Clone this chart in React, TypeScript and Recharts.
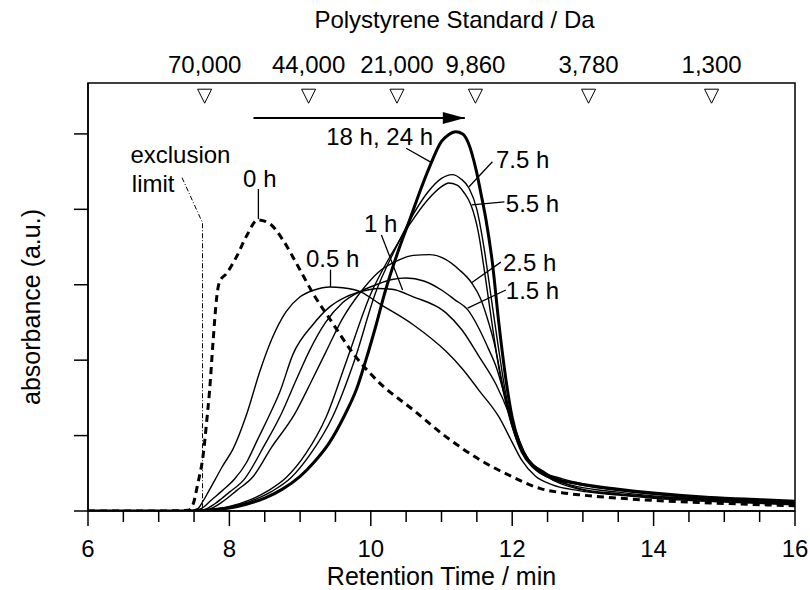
import {
  ComposedChart, Line, XAxis, YAxis, ReferenceArea, ReferenceDot, ReferenceLine, Label
} from 'recharts'

const FONT = '"Liberation Sans", Arial, Helvetica, sans-serif'

// GPC traces: [retention time (min), absorbance (a.u.)]
const h0 = [[6,0],[7.0,0],[7.42,0.01],[7.49,0.1],[7.55,0.35],[7.63,0.75],[7.68,1.2],[7.72,1.6],[7.77,2.26],[7.82,2.83],[7.86,3.04],[7.96,3.15],[8.1,3.37],[8.25,3.66],[8.4,3.86],[8.57,3.81],[8.76,3.59],[8.95,3.28],[9.18,2.89],[9.46,2.49],[9.75,2.09],[10.1,1.72],[10.6,1.34],[11.07,0.98],[11.54,0.68],[12.01,0.45],[12.39,0.3],[12.72,0.24],[13.0,0.21],[13.5,0.17],[14,0.14],[15,0.1],[16,0.07]]
const h05 = [[6,0],[7.4,0],[7.55,0.03],[7.62,0.12],[7.7,0.25],[7.8,0.42],[7.9,0.59],[8.05,0.82],[8.25,1.3],[8.43,1.85],[8.6,2.28],[8.8,2.64],[9.0,2.84],[9.2,2.93],[9.42,2.97],[9.6,2.96],[9.87,2.9],[10.12,2.75],[10.6,2.47],[11.06,2.12],[11.3,1.88],[11.53,1.6],[11.81,1.25],[12.0,0.91],[12.13,0.68],[12.33,0.46],[12.56,0.35],[12.94,0.27],[13.5,0.21],[14,0.17],[15,0.12],[16,0.08]]
const h1 = [[6,0],[7.45,0],[7.6,0.03],[7.75,0.15],[7.9,0.27],[8.07,0.42],[8.24,0.64],[8.4,0.95],[8.57,1.28],[8.71,1.57],[8.9,2.08],[9.18,2.47],[9.41,2.7],[9.65,2.84],[9.87,2.91],[10.1,2.95],[10.3,2.94],[10.6,2.84],[11.06,2.63],[11.29,2.4],[11.53,2.05],[11.77,1.68],[11.95,1.3],[12.09,0.93],[12.23,0.66],[12.47,0.47],[12.94,0.29],[13.5,0.22],[14,0.18],[15,0.13],[16,0.09]]
const h15 = [[6,0],[7.5,0],[7.65,0.02],[7.8,0.1],[8.0,0.25],[8.21,0.42],[8.5,0.88],[8.73,1.28],[8.95,1.75],[9.13,2.12],[9.36,2.5],[9.6,2.76],[9.87,2.92],[10.1,3.01],[10.3,3.07],[10.5,3.09],[10.75,3.05],[11.0,2.93],[11.19,2.8],[11.37,2.67],[11.53,2.42],[11.65,2.18],[11.77,1.92],[11.91,1.48],[12.06,1.04],[12.2,0.73],[12.47,0.51],[12.94,0.3],[13.5,0.23],[14,0.19],[15,0.14],[16,0.1]]
const h25 = [[6,0],[7.5,0],[7.7,0.02],[7.9,0.12],[8.1,0.27],[8.33,0.45],[8.6,0.85],[8.92,1.28],[9.15,1.7],[9.36,2.1],[9.6,2.55],[9.87,2.92],[10.1,3.16],[10.4,3.33],[10.6,3.39],[10.83,3.4],[11.05,3.34],[11.25,3.2],[11.43,3.02],[11.55,2.82],[11.65,2.55],[11.74,2.25],[11.86,1.7],[12.0,1.12],[12.13,0.78],[12.3,0.57],[12.6,0.41],[12.94,0.32],[13.5,0.25],[14,0.2],[15,0.15],[16,0.1]]
const h55 = [[6,0],[7.55,0],[7.75,0.02],[8.0,0.06],[8.3,0.15],[8.55,0.27],[8.8,0.44],[9.08,0.76],[9.37,1.25],[9.66,2.0],[10.0,2.88],[10.3,3.42],[10.55,3.8],[10.8,4.12],[11.0,4.3],[11.1,4.35],[11.22,4.32],[11.32,4.22],[11.42,4.05],[11.52,3.7],[11.62,3.1],[11.72,2.45],[11.82,1.85],[11.93,1.35],[12.05,0.98],[12.2,0.7],[12.4,0.53],[12.7,0.41],[13.0,0.34],[13.5,0.27],[14,0.22],[15,0.15],[16,0.11]]
const h75 = [[6,0],[7.55,0],[7.75,0.02],[8.0,0.05],[8.3,0.13],[8.6,0.26],[8.87,0.44],[9.15,0.76],[9.46,1.25],[9.77,2.0],[10.07,2.9],[10.35,3.48],[10.55,3.85],[10.8,4.22],[11.0,4.41],[11.15,4.46],[11.28,4.4],[11.39,4.28],[11.5,4.0],[11.6,3.5],[11.7,2.85],[11.8,2.2],[11.9,1.6],[12.0,1.16],[12.1,0.86],[12.25,0.66],[12.45,0.51],[12.7,0.43],[13.0,0.36],[13.5,0.28],[14,0.23],[15,0.17],[16,0.12]]
const h18 = [[6,0],[7.6,0],[7.8,0.02],[8.0,0.04],[8.24,0.09],[8.5,0.17],[8.75,0.29],[9.0,0.46],[9.2,0.65],[9.41,0.9],[9.63,1.27],[9.8,1.62],[9.93,2.0],[10.07,2.45],[10.2,2.9],[10.4,3.48],[10.55,3.86],[10.7,4.25],[10.83,4.56],[11.0,4.9],[11.1,4.99],[11.2,5.03],[11.3,5.0],[11.38,4.88],[11.49,4.52],[11.56,4.2],[11.63,3.86],[11.72,3.29],[11.81,2.5],[11.91,1.75],[12.0,1.24],[12.1,0.9],[12.23,0.67],[12.37,0.54],[12.6,0.43],[12.94,0.36],[13.5,0.29],[14,0.24],[14.8,0.18],[15.5,0.15],[16,0.13]]

// exclusion limit marker (dash-dot)
const exclusion = [[7.33,4.42],[7.62,3.82],[7.62,0]]
// shift arrow
const arrow = [[8.34,5.21],[11.33,5.21]]

// polystyrene standards on the top axis
const psTimes = [7.65, 9.12, 10.37, 11.48, 13.08, 14.82]
const psLabels = ['70,000', '44,000', '21,000', '9,860', '3,780', '1,300']
const markerY = 5.5

const xTicks = [6,6.5,7,7.5,8,8.5,9,9.5,10,10.5,11,11.5,12,12.5,13,13.5,14,14.5,15,15.5,16]
const xLabelled = [6, 8, 10, 12, 14, 16]
const yTicks = [0, 1, 2, 3, 4, 5]

// annotation texts: [label, t, v, anchor]
const notes: [string, number, number, string][] = [
  ['exclusion', 6.6, 4.62, 'start'],
  ['limit', 6.62, 4.23, 'start'],
  ['0 h', 8.43, 4.3, 'middle'],
  ['0.5 h', 9.46, 3.24, 'middle'],
  ['1 h', 10.14, 3.7, 'middle'],
  ['18 h, 24 h', 9.37, 4.85, 'start'],
  ['7.5 h', 11.77, 4.55, 'start'],
  ['5.5 h', 11.91, 3.96, 'start'],
  ['2.5 h', 11.87, 3.18, 'start'],
  ['1.5 h', 11.91, 2.81, 'start'],
]
// leader lines: [t1, v1, t2, v2]
const leaders = [
  [8.41, 4.27, 8.41, 3.87],
  [9.43, 3.2, 9.43, 2.97],
  [10.15, 3.66, 10.45, 2.93],
  [10.5, 4.81, 10.86, 4.62],
  [11.72, 4.63, 11.39, 4.3],
  [11.89, 4.1, 11.43, 4.06],
  [11.84, 3.3, 11.43, 3.03],
  [11.91, 2.93, 11.37, 2.69],
]

const pts = (a: number[][]) => a.map(([t, v]) => ({ t, v }))

const thin = [h05, h1, h15, h25, h55, h75]

function BottomTick(props: any) {
  const { x, y, payload } = props
  const major = xLabelled.includes(payload.value)
  return (
    <g>
      <line x1={x} x2={x} y1={y} y2={y + (major ? 15 : 11)} stroke="#000" strokeWidth={1.5} />
      {major && (
        <text x={x} y={y + 46} textAnchor="middle" fontSize={24} fontFamily={FONT} fill="#000">
          {payload.value}
        </text>
      )}
    </g>
  )
}

function ArrowHead(props: any) {
  const { cx, cy, index } = props
  if (index !== arrow.length - 1) return <g key={'a' + index} />
  return <polygon key={'a' + index} points={`${cx},${cy} ${cx - 22},${cy - 6} ${cx - 22},${cy + 6}`} fill="#000" />
}

export default function App() {
  return (
    <div style={{ width: 810, height: 590, background: '#fff' }}>
      <style>{'body{margin:0}'}</style>
      <ComposedChart width={810} height={590} margin={{ top: 23, right: 15, bottom: 0, left: 0 }}>
        <XAxis
          dataKey="t" type="number" domain={[6, 16]} ticks={xTicks} interval={0}
          allowDataOverflow tickSize={0} tickMargin={0} tickLine={false}
          axisLine={{ stroke: '#000', strokeWidth: 1.5 }} height={79} tick={<BottomTick />}
        >
          <Label content={(p: any) => (
            <text x={p.viewBox.x + p.viewBox.width / 2} y={p.viewBox.y + 74} textAnchor="middle"
              fontSize={25} fontFamily={FONT} fill="#000">Retention Time / min</text>
          )} />
        </XAxis>
        <XAxis
          xAxisId="top" orientation="top" type="number" domain={[6, 16]}
          allowDataOverflow tick={false} tickLine={false} axisLine={false} height={60}
        >
          <Label content={(p: any) => (
            <text x={p.viewBox.x + p.viewBox.width / 2 + 13} y={p.viewBox.y + 5} textAnchor="middle"
              fontSize={24} fontFamily={FONT} fill="#000">Polystyrene Standard / Da</text>
          )} />
        </XAxis>
        <YAxis
          type="number" domain={[0, 5.675]} ticks={yTicks} interval={0} allowDataOverflow width={88}
          tickSize={14} tickLine={{ stroke: '#000', strokeWidth: 1.5 }}
          axisLine={{ stroke: '#000', strokeWidth: 1.5 }} tick={() => <g />}
        >
          <Label content={(p: any) => {
            const cx = 40, cy = p.viewBox.y + p.viewBox.height / 2 + 10
            return (
              <text x={cx} y={cy} transform={`rotate(-90 ${cx} ${cy})`} textAnchor="middle"
                fontSize={25} fontFamily={FONT} fill="#000">absorbance (a.u.)</text>
            )
          }} />
        </YAxis>

        <ReferenceArea x1={6} x2={16} y1={0} y2={5.675} fill="none" stroke="#000" strokeWidth={1.5} ifOverflow="visible" />

        {psTimes.map((t, i) => (
          <ReferenceDot key={'ps' + t} x={t} y={markerY} r={7} ifOverflow="visible"
            shape={(p: any) => (
              <g>
                <polygon points={`${p.cx - 7},${p.cy - 7} ${p.cx + 7},${p.cy - 7} ${p.cx},${p.cy + 7}`}
                  fill="#fff" stroke="#000" strokeWidth={1} />
                <text x={p.cx} y={p.cy - 23} textAnchor="middle" fontSize={24} fontFamily={FONT} fill="#000">
                  {psLabels[i]}
                </text>
              </g>
            )} />
        ))}

        <Line data={pts(exclusion)} dataKey="v" type="linear" stroke="#000" strokeWidth={1}
          strokeDasharray="5 2 1 2" dot={false} activeDot={false} isAnimationActive={false} />
        <Line data={pts(h0)} dataKey="v" type="monotone" stroke="#000" strokeWidth={3}
          strokeDasharray="7 5" dot={false} activeDot={false} isAnimationActive={false} />
        {thin.map((s, i) => (
          <Line key={'s' + i} data={pts(s)} dataKey="v" type="monotone" stroke="#000" strokeWidth={1.4}
            dot={false} activeDot={false} isAnimationActive={false} />
        ))}
        <Line data={pts(h18)} dataKey="v" type="monotone" stroke="#000" strokeWidth={3}
          dot={false} activeDot={false} isAnimationActive={false} />
        <Line data={pts(arrow)} dataKey="v" type="linear" stroke="#000" strokeWidth={2}
          dot={<ArrowHead />} activeDot={false} isAnimationActive={false} />

        {leaders.map(([t1, v1, t2, v2], i) => (
          <ReferenceLine key={'l' + i} segment={[{ x: t1, y: v1 }, { x: t2, y: v2 }]}
            stroke="#000" strokeWidth={1.3} />
        ))}
        {notes.map(([txt, t, v, anchor]) => (
          <ReferenceDot key={txt} x={t} y={v} r={1} ifOverflow="visible"
            shape={(p: any) => (
              <text x={p.cx} y={p.cy} textAnchor={anchor as any} fontSize={24} fontFamily={FONT} fill="#000">
                {txt}
              </text>
            )} />
        ))}
      </ComposedChart>
    </div>
  )
}
